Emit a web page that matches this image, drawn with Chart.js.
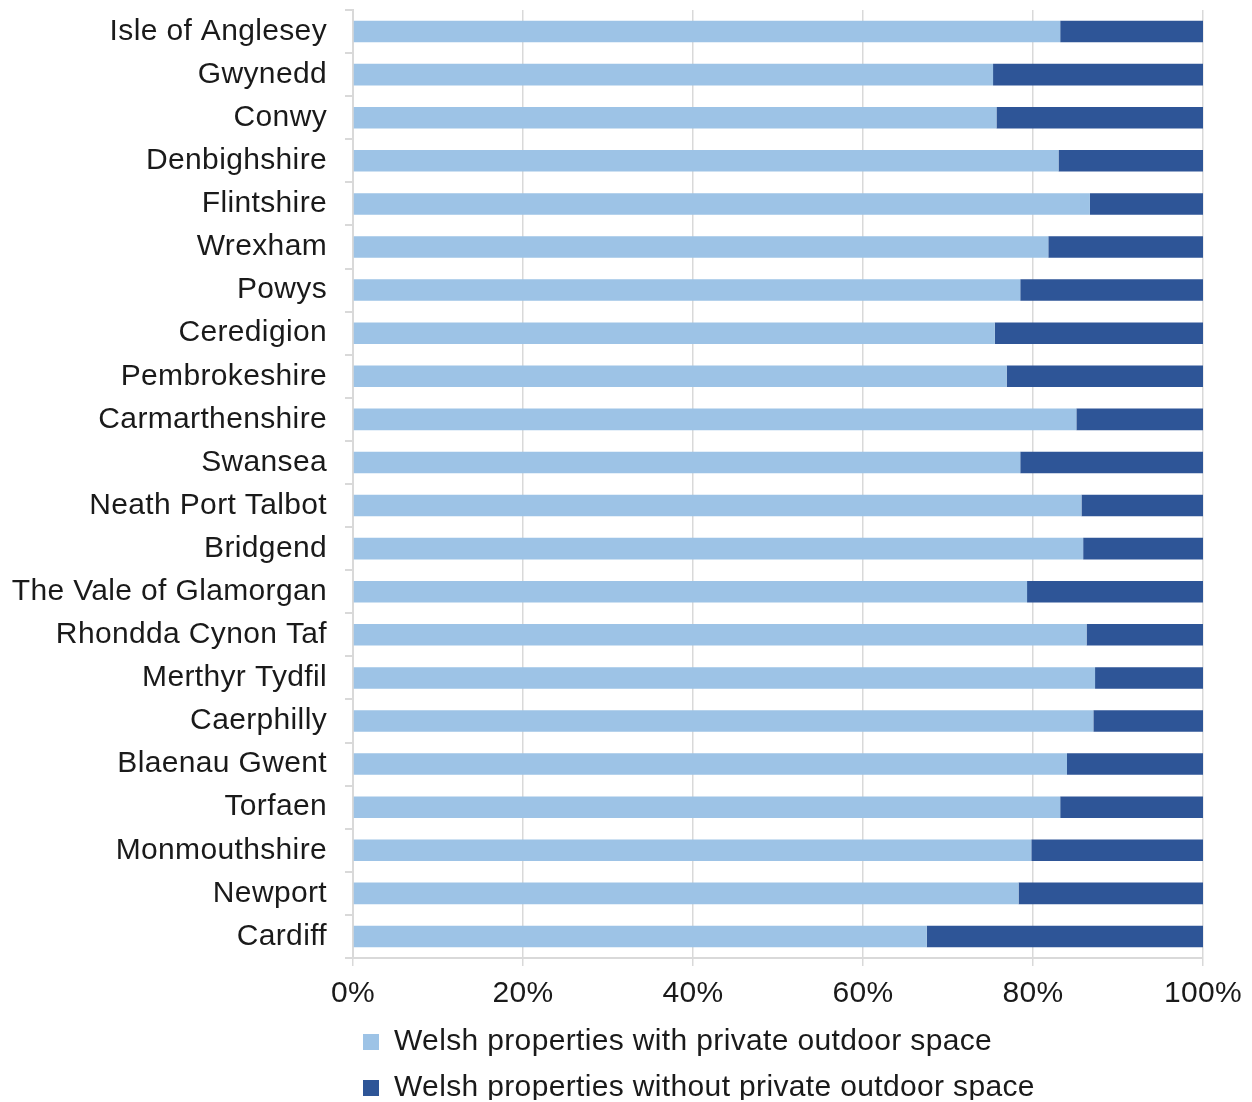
<!DOCTYPE html>
<html>
<head>
<meta charset="utf-8">
<script src="https://cdn.jsdelivr.net/npm/chart.js@4/dist/chart.umd.min.js"></script>
<style>
  html, body { margin: 0; padding: 0; background: #ffffff; }
  canvas { display: block; }
</style>
</head>
<body>
<canvas id="c" width="1252" height="1102"></canvas>
<script>
const categories = [
  "Isle of Anglesey", "Gwynedd", "Conwy", "Denbighshire", "Flintshire", "Wrexham",
  "Powys", "Ceredigion", "Pembrokeshire", "Carmarthenshire", "Swansea",
  "Neath Port Talbot", "Bridgend", "The Vale of Glamorgan", "Rhondda Cynon Taf",
  "Merthyr Tydfil", "Caerphilly", "Blaenau Gwent", "Torfaen", "Monmouthshire",
  "Newport", "Cardiff"
];
const withOutdoor = [
  83.2, 75.3, 75.7, 83.0, 86.7, 81.8,
  78.5, 75.5, 76.9, 85.1, 78.5,
  85.7, 85.9, 79.3, 86.3,
  87.3, 87.1, 84.0, 83.2, 79.8,
  78.3, 67.5
];
const withoutOutdoor = [
  16.8, 24.7, 24.3, 17.0, 13.3, 18.2,
  21.5, 24.5, 23.1, 14.9, 21.5,
  14.3, 14.1, 20.7, 13.7,
  12.7, 12.9, 16.0, 16.8, 20.2,
  21.7, 32.5
];
const seriesNames = [
  "Welsh properties with private outdoor space",
  "Welsh properties without private outdoor space"
];
const xTickValues = [0, 20, 40, 60, 80, 100];

const FONT = "'Liberation Sans', Arial, sans-serif";
const FSIZE = 30;
const TEXT = '#1a1a1a';
const GRID = '#d9d9d9';
const X_AXIS_H = 55;
const LEGEND_H = 89;

const tweaks = {
  id: 'tweaks',
  beforeLayout(chart) {
    chart.ctx.letterSpacing = '0.35px';
    const lg = chart.legend;
    if (lg && !lg._patched) {
      lg._patched = true;
      const origFit = lg.fit;
      lg.fit = function () {
        origFit.apply(this, arguments);
        this.height = LEGEND_H;
      };
    }
  },
  beforeDraw(chart) {
    chart.ctx.letterSpacing = '0.35px';
  },
  afterLayout(chart) {
    const lg = chart.legend;
    if (!lg) return;
    const w = lg.right - lg.left;
    lg.left = 347;
    lg.right = 347 + w;
    const h = lg.bottom - lg.top;
    lg.top = 1011;
    lg.bottom = 1011 + h;
  }
};

new Chart(document.getElementById('c'), {
  type: 'bar',
  data: {
    labels: categories,
    datasets: [
      {
        label: seriesNames[0],
        data: withOutdoor,
        backgroundColor: '#9dc3e6',
        borderWidth: 0,
        barPercentage: 0.5,
        categoryPercentage: 1.0
      },
      {
        label: seriesNames[1],
        data: withoutOutdoor,
        backgroundColor: '#2e5597',
        borderWidth: 0,
        barPercentage: 0.5,
        categoryPercentage: 1.0
      }
    ]
  },
  options: {
    indexAxis: 'y',
    responsive: false,
    animation: false,
    layout: { padding: { left: 0, right: 49, top: 10, bottom: 0 } },
    plugins: {
      tooltip: { enabled: false },
      legend: {
        position: 'bottom',
        align: 'start',
        fullSize: false,
        labels: {
          font: { family: FONT, size: FSIZE },
          color: TEXT,
          boxWidth: 16,
          boxHeight: 16,
          padding: 16
        }
      }
    },
    scales: {
      x: {
        stacked: true,
        min: 0,
        max: 100,
        afterBuildTicks(scale) {
          scale.ticks = xTickValues.map(v => ({ value: v }));
        },
        afterFit(scale) {
          scale.height = X_AXIS_H;
          scale.paddingLeft = 0;
          scale.paddingRight = 0;
        },
        ticks: {
          font: { family: FONT, size: FSIZE },
          color: TEXT,
          padding: 10,
          callback: v => v + '%'
        },
        grid: {
          color: GRID,
          lineWidth: 1.5,
          drawTicks: true,
          tickLength: 8
        },
        border: { color: GRID, width: 2 }
      },
      y: {
        stacked: true,
        afterFit(scale) {
          scale.width = 353;
          scale.paddingTop = 0;
          scale.paddingBottom = 0;
        },
        ticks: {
          font: { family: FONT, size: FSIZE },
          color: TEXT,
          padding: 18,
          autoSkip: false
        },
        grid: {
          drawOnChartArea: false,
          drawTicks: true,
          tickLength: 8,
          color: GRID,
          lineWidth: 2,
          offset: true
        },
        border: { color: GRID, width: 2 }
      }
    }
  },
  plugins: [tweaks]
});
</script>
</body>
</html>
